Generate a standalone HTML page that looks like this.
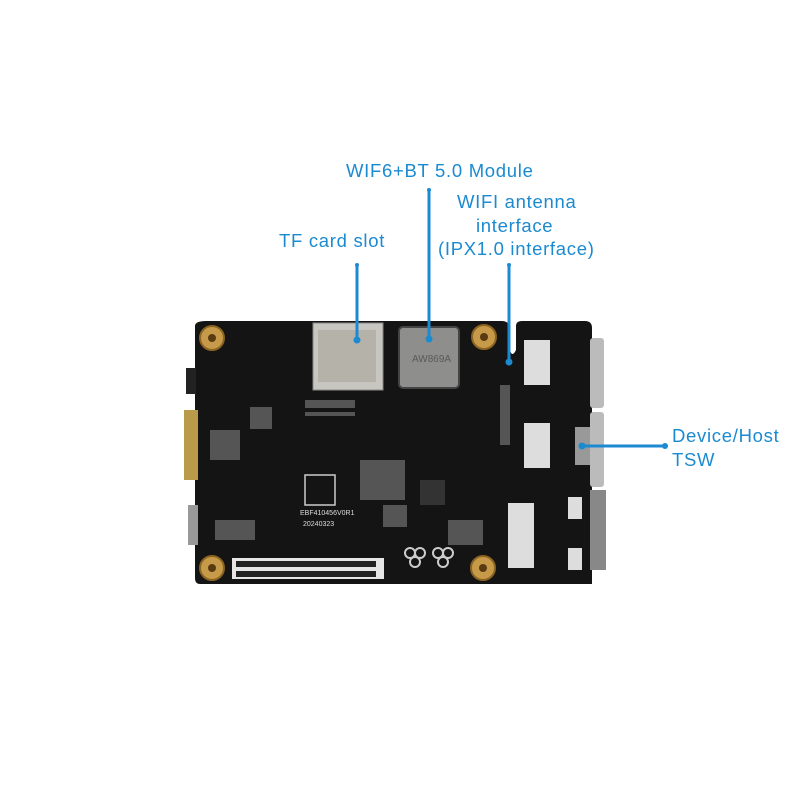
<!DOCTYPE html>
<html><head><style>
body{margin:0;background:#fff;width:800px;height:800px;overflow:hidden}
svg{display:block}
text{font-family:"Liberation Sans",sans-serif;fill:#1b8ad0;font-size:18.5px;letter-spacing:0.7px}
</style></head><body>
<svg width="800" height="800" viewBox="0 0 800 800">
<path d="M206 321 H502 Q510 321 510 330 V350 Q512 358 516 350 V326 Q516 321 522 321 H585 Q592 321 592 328 V580 Q592 584 585 584 H200 Q195 584 195 578 V326 Q195 321 206 321 Z" fill="#141414"/>
<rect x="512" y="355" width="80" height="229" fill="#141414"/>
<rect x="186" y="368" width="10" height="26" fill="#222"/>
<rect x="184" y="410" width="14" height="70" fill="#b89a4a"/>
<rect x="188" y="505" width="10" height="40" fill="#999"/>
<rect x="590" y="338" width="14" height="70" rx="3" fill="#bbb"/>
<rect x="590" y="412" width="14" height="75" rx="3" fill="#bbb"/>
<rect x="590" y="490" width="16" height="80" fill="#888"/>
<g fill="#c79a4a" stroke="#8a6420" stroke-width="2">
<circle cx="212" cy="338" r="12"/><circle cx="484" cy="337" r="12"/>
<circle cx="212" cy="568" r="12"/><circle cx="483" cy="568" r="12"/>
</g>
<g fill="#5a3a10"><circle cx="212" cy="338" r="4"/><circle cx="484" cy="337" r="4"/><circle cx="212" cy="568" r="4"/><circle cx="483" cy="568" r="4"/></g>
<rect x="313" y="323" width="70" height="67" fill="#c8c6c0" stroke="#888"/>
<rect x="318" y="330" width="58" height="52" fill="#b5b2aa"/>
<rect x="399" y="327" width="60" height="61" rx="4" fill="#8e8e8c" stroke="#444" stroke-width="2"/>
<text x="412" y="362" style="fill:#5a5a5a;font-size:10px;letter-spacing:0">AW869A</text>
<rect x="305" y="475" width="30" height="30" fill="none" stroke="#ccc" stroke-width="1.5"/>
<rect x="420" y="480" width="25" height="25" fill="#333"/>
<rect x="383" y="505" width="24" height="22" fill="#555"/>
<rect x="250" y="407" width="22" height="22" fill="#555"/>
<text x="300" y="515" style="fill:#ddd;font-size:7px;letter-spacing:0">EBF410456V0R1</text>
<text x="303" y="526" style="fill:#ddd;font-size:7px;letter-spacing:0">20240323</text>
<rect x="232" y="558" width="152" height="21" fill="#e6e6e6"/>
<g fill="#222">
<rect x="236" y="561" width="140" height="6"/><rect x="236" y="571" width="140" height="6"/>
</g>
<rect x="524" y="340" width="26" height="45" fill="#ddd"/>
<rect x="524" y="423" width="26" height="45" fill="#ddd"/>
<rect x="508" y="503" width="26" height="65" fill="#ddd"/>
<rect x="568" y="497" width="14" height="22" fill="#ddd"/>
<rect x="568" y="548" width="14" height="22" fill="#ddd"/>
<rect x="575" y="427" width="15" height="38" fill="#999"/>
<g fill="#555">
<rect x="305" y="400" width="50" height="8"/><rect x="305" y="412" width="50" height="4"/>
<rect x="360" y="460" width="45" height="40"/><rect x="210" y="430" width="30" height="30"/>
<rect x="215" y="520" width="40" height="20"/><rect x="448" y="520" width="35" height="25"/>
<rect x="500" y="385" width="10" height="60"/>
</g>
<g fill="none" stroke="#ccc" stroke-width="2">
<circle cx="410" cy="553" r="5"/><circle cx="420" cy="553" r="5"/><circle cx="415" cy="562" r="5"/>
<circle cx="438" cy="553" r="5"/><circle cx="448" cy="553" r="5"/><circle cx="443" cy="562" r="5"/>
</g>
<g stroke="#1b8ad0" stroke-width="3" fill="#1b8ad0">
<line x1="357" y1="265" x2="357" y2="340"/><circle cx="357" cy="340" r="3.5" stroke="none"/><circle cx="357" cy="265" r="2" stroke="none"/>
<line x1="429" y1="190" x2="429" y2="339"/><circle cx="429" cy="339" r="3.5" stroke="none"/><circle cx="429" cy="190" r="2" stroke="none"/>
<line x1="509" y1="265" x2="509" y2="362"/><circle cx="509" cy="362" r="3.5" stroke="none"/><circle cx="509" cy="265" r="2" stroke="none"/>
<line x1="582" y1="446" x2="665" y2="446"/><circle cx="582" cy="446" r="3.5" stroke="none"/><circle cx="665" cy="446" r="3" stroke="none"/>
</g>
<text x="279" y="247">TF card slot</text>
<text x="346" y="177">WIF6+BT 5.0 Module</text>
<text x="457" y="208">WIFI antenna</text>
<text x="476" y="232">interface</text>
<text x="438" y="255">(IPX1.0 interface)</text>
<text x="672" y="442">Device/Host</text>
<text x="672" y="466">TSW</text>
</svg>
</body></html>
